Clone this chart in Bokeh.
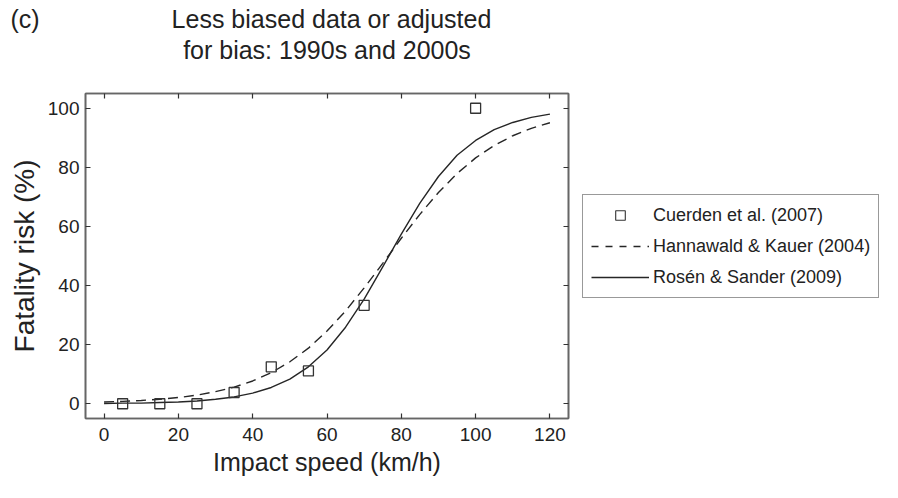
import math
from bokeh.plotting import figure
from bokeh.models import (ColumnDataSource, Legend, LegendItem, LinearAxis,
                          FixedTicker, Range1d, Title)
from bokeh.layouts import row
from bokeh.embed import file_html
from bokeh.resources import INLINE

# ---------------- data ----------------
cuerden_speed = [5, 15, 25, 35, 45, 55, 70, 100]
cuerden_risk = [0.0, 0.0, 0.0, 3.8, 12.5, 11.1, 33.3, 100.0]

curve_speed = [0, 5, 10, 15, 20, 25, 30, 35, 40, 45, 50, 55, 60,
               65, 70, 75, 80, 85, 90, 95, 100, 105, 110, 115, 120]
hannawald_risk = [0.6, 0.8, 1.1, 1.5, 2.1, 2.9, 4.1, 5.6, 7.7, 10.5, 14.2, 18.8, 24.6,
                  31.4, 39.2, 47.5, 56.0, 64.1, 71.5, 77.9, 83.2, 87.4, 90.7, 93.2, 95.1]
rosen_risk = [0.1, 0.2, 0.2, 0.4, 0.6, 0.9, 1.5, 2.3, 3.6, 5.5, 8.3, 12.5, 18.2,
              25.9, 35.4, 46.3, 57.4, 67.9, 76.9, 84.1, 89.1, 92.8, 95.2, 96.9, 98.0]

x_ticks = [0, 20, 40, 60, 80, 100, 120]
y_ticks = [0, 20, 40, 60, 80, 100]

panel_label = "(c)"
title_lines = ["Less biased data or adjusted", "for bias: 1990s and 2000s"]
x_label = "Impact speed (km/h)"
y_label = "Fatality risk (%)"
legend_labels = ["Cuerden et al. (2007)", "Hannawald & Kauer (2004)", "Rosén & Sander (2009)"]

FONT = "Liberation Sans"
INK = "#262626"
TXT = "#222222"
AXIS = "#666666"

W, H = 882, 482
FRAME_L, FRAME_T, FRAME_R, FRAME_B = 85, 93, 568, 418
MAIN_W = 581

p = figure(width=MAIN_W, height=H, output_backend="svg", toolbar_location=None,
           x_range=Range1d(-5, 125), y_range=Range1d(-5, 105),
           min_border_left=FRAME_L, min_border_right=MAIN_W - FRAME_R,
           min_border_top=FRAME_T, min_border_bottom=H - FRAME_B,
           background_fill_color="white", border_fill_color="white")
p.xgrid.visible = False
p.ygrid.visible = False
p.outline_line_color = AXIS
p.outline_line_width = 1.6


def style_axis(ax, ticks):
    ax.ticker = FixedTicker(ticks=ticks)
    ax.major_tick_in = 5
    ax.major_tick_out = 0
    ax.minor_tick_line_color = None
    ax.axis_line_color = AXIS
    ax.axis_line_width = 1.6
    ax.major_tick_line_color = "#333333"
    ax.major_tick_line_width = 1.2
    ax.major_label_text_font = FONT
    ax.major_label_text_font_size = "19px"
    ax.major_label_text_color = TXT
    ax.axis_label_text_font = FONT
    ax.axis_label_text_font_style = "normal"
    ax.axis_label_text_color = TXT


xa = p.xaxis[0]
ya = p.yaxis[0]
style_axis(xa, x_ticks)
style_axis(ya, y_ticks)
xa.major_label_standoff = 9
ya.major_label_standoff = 6
xa.axis_label = x_label
xa.axis_label_text_font_size = "25px"
xa.axis_label_standoff = 4
ya.axis_label = y_label
ya.axis_label_text_font_size = "28px"
ya.axis_label_standoff = 5

# mirrored tick marks on top / right (tick labels not painted);
# the top axis carries the second title line as its label
top_axis = LinearAxis()
style_axis(top_axis, x_ticks)
top_axis.major_label_text_color = None
top_axis.major_label_standoff = 0
top_axis.axis_label = title_lines[1]
top_axis.axis_label_text_font_size = "25px"
top_axis.axis_label_standoff = 30
right_axis = LinearAxis()
style_axis(right_axis, y_ticks)
right_axis.major_label_text_color = None
right_axis.major_label_standoff = 0
p.add_layout(top_axis, "above")
p.add_layout(right_axis, "right")

# first title line with the panel letter, further out
NB = "\u00a0"
line1 = Title(text=panel_label + NB * 19 + title_lines[0], align="left", offset=-75,
              standoff=0, text_font=FONT, text_font_size="25px",
              text_font_style="normal", text_color=TXT)
p.add_layout(line1, "above")

# ---------------- glyphs ----------------
curve_src = ColumnDataSource(dict(speed=curve_speed, hannawald=hannawald_risk, rosen=rosen_risk))
pts_src = ColumnDataSource(dict(speed=cuerden_speed, risk=cuerden_risk))

p.line("speed", "hannawald", source=curve_src, line_color=INK, line_width=1.4,
       line_dash="10 6")
p.line("speed", "rosen", source=curve_src, line_color=INK, line_width=1.4)
p.scatter("speed", "risk", source=pts_src, marker="square", size=10,
          fill_color=None, line_color="#333333", line_width=1.3)

# ---------------- legend panel (separate figure to the right) ----------------
lg = figure(width=W - MAIN_W, height=H, output_backend="svg", toolbar_location=None,
            x_range=Range1d(0, 1), y_range=Range1d(0, 1),
            x_axis_location=None, y_axis_location=None,
            min_border_left=0, min_border_right=0,
            min_border_top=FRAME_T, min_border_bottom=H - FRAME_B,
            background_fill_color="white", border_fill_color="white")
lg.outline_line_color = None
lg.xgrid.visible = False
lg.ygrid.visible = False

# legend-only proxies (NaN position: nothing drawn)
proxy_src = ColumnDataSource(dict(x=[math.nan], y=[math.nan]))
g_c = lg.scatter("x", "y", source=proxy_src, marker="square", size=7,
                 fill_color=None, line_color="#333333", line_width=1.1)
g_h = lg.line("x", "y", source=proxy_src, line_color=INK, line_width=1.3, line_dash="7 7")
g_r = lg.line("x", "y", source=proxy_src, line_color=INK, line_width=1.4)

legend = Legend(items=[LegendItem(label=legend_labels[0], renderers=[g_c]),
                       LegendItem(label=legend_labels[1], renderers=[g_h]),
                       LegendItem(label=legend_labels[2], renderers=[g_r])],
                location=(1, 120), orientation="vertical",
                glyph_width=58, glyph_height=24, label_height=24, label_standoff=4,
                spacing=7, padding=8, margin=0,
                label_text_font=FONT, label_text_font_size="18px", label_text_color=TXT,
                border_line_color="#333333", border_line_width=1.3,
                background_fill_color="white", background_fill_alpha=1.0)
lg.add_layout(legend, "center")

open("out.html", "w").write(file_html(row(p, lg), INLINE))
